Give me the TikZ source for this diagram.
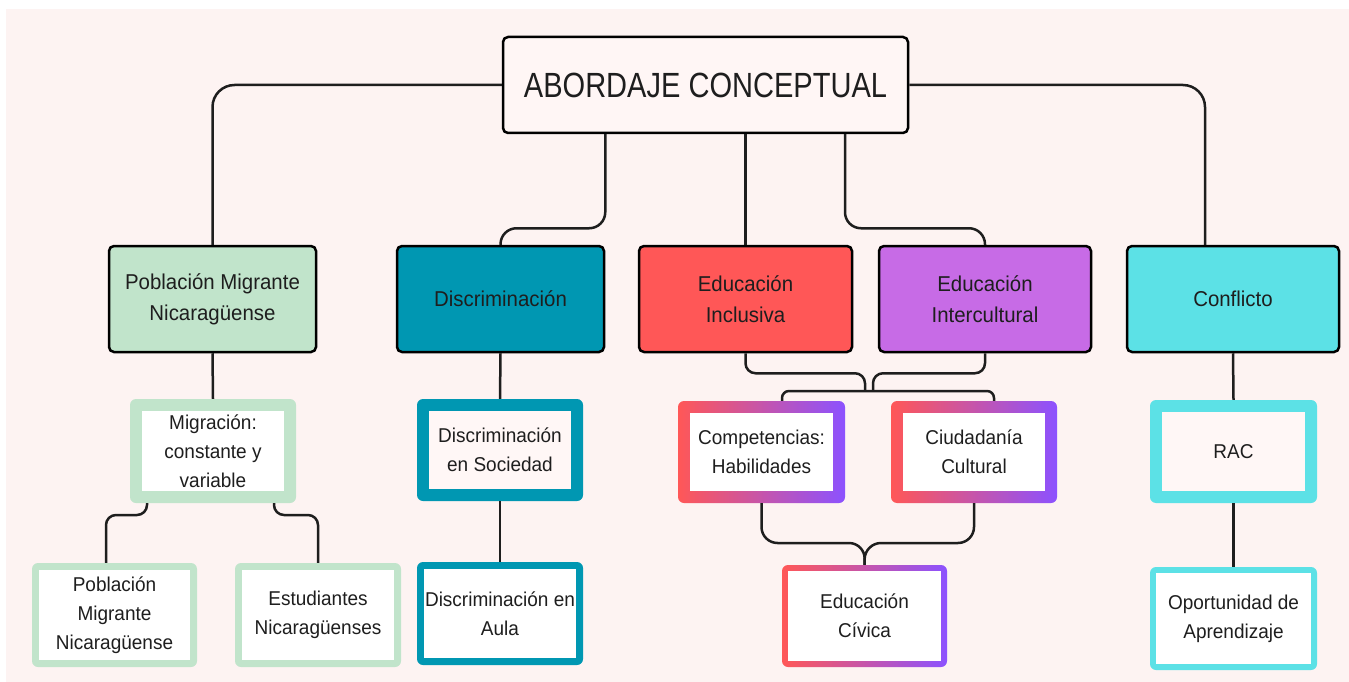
\documentclass[tikz,border=0pt]{standalone}
\usepackage{fontspec}
\setmainfont{Liberation Sans}[FakeStretch=0.95]
\newfontfamily\rootfont{Liberation Sans}[FakeStretch=0.83]
\usetikzlibrary{calc}
\definecolor{bg}{HTML}{FDF3F2}
\definecolor{rootfill}{HTML}{FFF6F5}
\definecolor{txtc}{HTML}{1E1E1E}
\definecolor{green1}{HTML}{C1E4CB}
\definecolor{teal1}{HTML}{0097B2}
\definecolor{red1}{HTML}{FF5757}
\definecolor{purp1}{HTML}{C76BE6}
\definecolor{cyan1}{HTML}{5CE1E6}
\definecolor{gr1}{HTML}{FF5757}
\definecolor{gr2}{HTML}{8C52FF}
\definecolor{pinkin}{HTML}{FFF7F6}
\begin{document}
\begin{tikzpicture}[x=1pt,y=-1pt,
  txt/.style={text=txtc, font=\fontsize{21.5}{31}\selectfont, align=center, inner sep=0pt},
  smalltxt/.style={text=txtc, font=\fontsize{20}{29}\selectfont, align=center, inner sep=0pt},
  lvlone/.style={txt, draw=black, line width=2.5pt, rounded corners=5pt, fill=#1,
     minimum width=207pt, minimum height=106pt},
  frame/.style n args={3}{smalltxt, fill=#1, rounded corners=6pt,
     path picture={\fill[#2, sharp corners] ([shift={(#3,#3)}]path picture bounding box.south west)
        rectangle ([shift={(-#3,-#3)}]path picture bounding box.north east);}},
  gradframe/.style={smalltxt, left color=gr1, right color=gr2, rounded corners=6pt,
     path picture={\fill[white, sharp corners] ([shift={(#1,#1)}]path picture bounding box.south west)
        rectangle ([shift={(-#1,-#1)}]path picture bounding box.north east);}},
  conn/.style={draw=txtc, line width=2.5pt, rounded corners=#1},
  conn/.default=18pt
]
\useasboundingbox (0,0) rectangle (1349,682);
\fill[bg] (6,9) rectangle (1349,682);

% root
\node[draw=black, line width=2.5pt, rounded corners=5pt, fill=rootfill,
  minimum width=405pt, minimum height=96pt, text=txtc,
  font=\rootfont\fontsize{35}{40}\selectfont] (root) at (705.5,85) {ABORDAJE CONCEPTUAL};

% level 1
\node[lvlone=green1] (pob) at (212.5,299) {Población Migrante\\Nicaragüense};
\node[lvlone=teal1] (disc) at (500.5,299) {Discriminación};
\node[lvlone=red1, minimum width=213pt] (incl) at (745.5,299) {Educación\\Inclusiva};
\node[lvlone=purp1, minimum width=212pt] (inter) at (985,299) {Educación\\Intercultural};
\node[lvlone=cyan1, minimum width=212pt] (conf) at (1233,299) {Conflicto};

% level 2
\node[frame={green1}{white}{12pt}, minimum width=166pt, minimum height=104pt] (mig) at (213,451) {Migración:\\constante y\\variable};
\node[frame={teal1}{pinkin}{12pt}, minimum width=166pt, minimum height=102pt] (soc) at (500,450) {Discriminación\\en Sociedad};
\node[gradframe=12pt, minimum width=167pt, minimum height=102pt] (comp) at (761.5,452) {Competencias:\\Habilidades};
\node[gradframe=12pt, minimum width=166pt, minimum height=102pt] (ciud) at (974,452) {Ciudadanía\\Cultural};
\node[frame={cyan1}{pinkin}{12pt}, minimum width=167pt, minimum height=103pt] (rac) at (1233.5,451.5) {RAC};

% level 3
\node[frame={green1}{white}{7pt}, minimum width=165pt, minimum height=104pt] (pobb) at (114.5,615) {Población\\Migrante\\Nicaragüense};
\node[frame={green1}{white}{7pt}, minimum width=166pt, minimum height=104pt] (est) at (318,615) {Estudiantes\\Nicaragüenses};
\node[frame={teal1}{white}{7pt}, minimum width=166pt, minimum height=103pt] (aula) at (500,613.5) {Discriminación en\\Aula};
\node[gradframe=6pt, minimum width=165pt, minimum height=102pt] (civ) at (864.5,616) {Educación\\Cívica};
\node[frame={cyan1}{white}{6pt}, minimum width=167pt, minimum height=103pt] (opo) at (1233.5,618.5) {Oportunidad de\\Aprendizaje};

% helper coordinates
\coordinate (jl) at (865,391);
\coordinate (jr) at (873,391);
\coordinate (barL) at (782,391);
\coordinate (barR) at (994,391);
\coordinate (cj) at (865,543);
\coordinate (ml) at (147,515);
\coordinate (mr) at (274,515);
\coordinate (pl) at (106,0);

% connectors from root
\draw[conn=22pt] (root.west) -| (pob.north);
\draw[conn=22pt] (root.east) -| ($(conf.north)+(-28,0)$);
\draw[conn=16pt] (root.south -| disc.east) -- ++(0,94) -| (disc.north);
\draw[conn] (root.south -| incl.north) -- (incl.north);
\draw[conn=16pt] ($(root.south)+(139.5,0)$) -- ++(0,94) -| (inter.north);

% population branch
\draw[conn] (pob.south) -- (mig.north);
\draw[conn=10pt] (ml |- mig.south) -- (ml) -| (pl |- pobb.north);
\draw[conn=10pt] (mr |- mig.south) -- (mr) -| (est.north);

% discrimination branch
\draw[conn] (disc.south) -- (soc.north);
\draw[conn] (soc.south) -- (aula.north);

% education branch
\draw[conn=10pt] (incl.south) -- ++(0,20) -| (jl);
\draw[conn=10pt] (inter.south) -- ++(0,20) -| (jr);
\draw[conn=7pt] (barL |- comp.north) -- (barL) -- (barR) -- (barR |- ciud.north);
\draw[conn=16pt] (comp.south) |- (cj) -- (civ.north);
\draw[conn=16pt] (ciud.south) |- (cj) -- (civ.north);

% conflict branch
\draw[conn] (conf.south) -- (rac.north);
\draw[conn] (rac.south) -- (opo.north);
\end{tikzpicture}
\end{document}
